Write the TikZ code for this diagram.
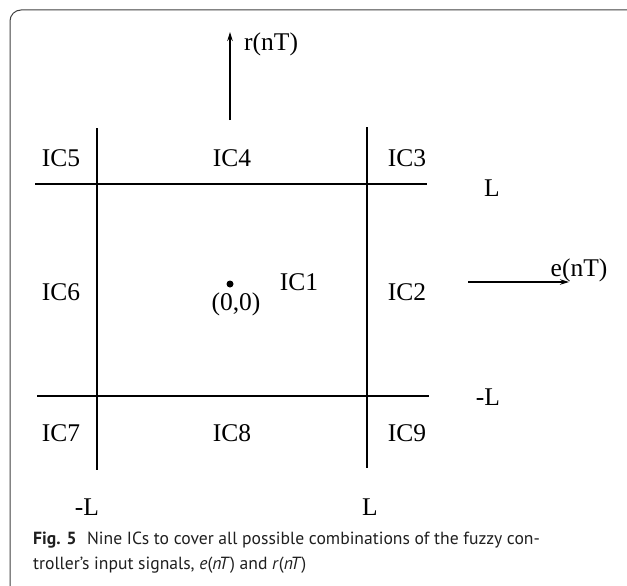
\documentclass[tikz,border=0pt]{standalone}
\usepackage{fontspec}
\setmainfont{Liberation Serif}
\newfontfamily\capfont{PT Sans}
\usetikzlibrary{arrows.meta}
\begin{document}
\begin{tikzpicture}[x=1pt,y=-1pt,
  lbl/.style={font=\fontsize{25.5}{27}\selectfont, inner sep=0pt},
  thinline/.style={line width=1.6pt},
  thickline/.style={line width=2.3pt},
  axis/.style={line width=1.6pt,-{Stealth[length=9pt,width=5.5pt]}},
  captext/.style={font=\capfont\fontsize{17.6}{21}\selectfont, text=black!88, inner sep=0pt, anchor=west}]
\useasboundingbox (0,0) rectangle (627,586);
\begin{scope}
\clip (0,0) rectangle (627,586);
\draw[line width=1pt, black!75, rounded corners=11pt] (10,10) rectangle (660,620);
\end{scope}
% grid coordinates
\coordinate (vlT) at (97,128);
\coordinate (vlB) at (97,470);
\coordinate (vrT) at (367,127);
\coordinate (vrB) at (367,468);
\coordinate (htL) at (35,184);
\coordinate (htR) at (427,184);
\coordinate (hbL) at (37,396);
\coordinate (hbR) at (429,396);
\coordinate (A) at (97,184);
\coordinate (C) at (367,396);
\draw[thinline] (vlT) -- (vlB);
\draw[thinline] (vrT) -- (vrB);
\draw[thinline] (htL) -- (htR);
\draw[thinline] (hbL) -- (hbR);
\draw[thickline] (A) rectangle (C);
% axes
\coordinate (rS) at (230,120);
\coordinate (rE) at (230,32);
\coordinate (eS) at (468,282);
\coordinate (eE) at (569,282);
\draw[axis] (rS) -- (rE);
\draw[axis] (eS) -- (eE);
\node[lbl, anchor=west] (rlab) at (244,44) {r(nT)};
\node[lbl] (elab) at (579,270) {e(nT)};
% region labels
\node[lbl] (ic5) at (61,158) {IC5};
\node[lbl] (ic4) at (232,158) {IC4};
\node[lbl] (ic3) at (407,158) {IC3};
\node[lbl] (ic6) at (61,292) {IC6};
\node[lbl] (ic1) at (299,282) {IC1};
\node[lbl] (ic2) at (407,292) {IC2};
\node[lbl] (ic7) at (61,433) {IC7};
\node[lbl] (ic8) at (232,433) {IC8};
\node[lbl] (ic9) at (407,433) {IC9};
\node[lbl] (Ltop) at (492,188) {L};
\node[lbl] (mLr) at (488,397) {-L};
\node[lbl] (mLb) at (87,507) {-L};
\node[lbl] (Lb) at (370,507) {L};
\fill (230,284) circle (3.5pt) coordinate (origin);
\node[lbl] (orig) at (236,304) {(0,0)};
% caption
\node[captext] (cap1) at (33,540) {\textbf{Fig. 5}\hspace{0.6em}Nine ICs to cover all possible combinations of the fuzzy con-};
\node[captext] (cap2) at (33,565) {troller’s input signals, \textit{e}(\textit{nT}) and \textit{r}(\textit{nT})};
\end{tikzpicture}
\end{document}
